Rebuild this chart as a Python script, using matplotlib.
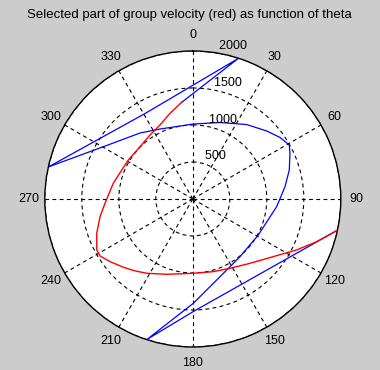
import numpy as np
import matplotlib.pyplot as plt

plt.rcParams['font.family'] = ['Liberation Sans', 'DejaVu Sans']

# angles in degrees (clockwise from north), radii in m/s
# selected part of the group velocity (red)
red_theta = [353.3, 345.1, 336.1, 326.2, 314.7, 301.2, 292.2, 281.2, 267.2, 259.2,
             250.4, 242.0, 238.4, 232.9, 225.5, 218.8, 211.8, 199.1, 179.6, 164.3,
             151.8, 138.4, 125.6, 116.1, 109.0, 102.4]
red_r = [1313, 1198, 1094, 1040, 1004, 1018, 1037, 1095, 1188, 1276,
         1378, 1470, 1471, 1403, 1316, 1247, 1181, 1077, 1004, 1020,
         1063, 1163, 1338, 1564, 1771, 1991]

# rest of the full curve (blue): up to the red part, and after it
blue_a_theta = [282.6, 330.8, 17.9, 353.3]
blue_a_r = [1995, 1323, 1995, 1313]
blue_b_theta = [102.4, 179.7, 198.0, 179.7, 151.2, 140.7, 118.8, 95.2, 82.4, 73.3, 64.8,
                60.8, 54.8, 47.4, 35.9, 19.6, 0.4, 334.9, 321.3, 298.8, 282.6]
blue_b_r = [1991, 1520, 1993, 1409, 1044, 1007, 1010, 1138, 1257, 1361, 1451,
            1494, 1442, 1357, 1242, 1097, 1013, 1044, 1142, 1431, 1995]

r_ticks = [500, 1000, 1500, 2000]
theta_ticks = list(range(0, 360, 30))

fig = plt.figure(figsize=(3.8, 3.7), dpi=100, facecolor='#cccccc')
ax = fig.add_axes([0.1179, 0.0622, 0.779, 0.8], projection='polar')
ax.set_facecolor('white')
ax.set_theta_zero_location('N')
ax.set_theta_direction(-1)
ax.set_ylim(0, 2000)

ax.plot(np.radians(blue_a_theta), blue_a_r, color='blue', lw=0.9, zorder=3)
ax.plot(np.radians(blue_b_theta), blue_b_r, color='blue', lw=0.9, zorder=3)
ax.plot(np.radians(red_theta), red_r, color='red', lw=1.0, zorder=4)

# grid like matlab polar()
ax.set_rgrids(r_ticks, labels=[''] * len(r_ticks))
ax.set_thetagrids(theta_ticks, labels=[''] * len(theta_ticks))
ax.grid(True, color='black', linestyle=(0, (3.5, 3)), lw=0.8)
ax.spines['polar'].set_color('black')
ax.spines['polar'].set_linewidth(1.0)

for t in theta_ticks:
    ax.text(np.radians(t), 2210, str(t), ha='center', va='center', fontsize=9)
for r in r_ticks:
    ax.text(np.radians(7.5), r, '  %d' % r, ha='left', va='bottom', fontsize=9)

fig.text(189 / 380, 1 - 15 / 370, 'Selected part of group velocity (red) as function of theta',
         ha='center', va='center', fontsize=9.5)

fig.savefig('out.png', dpi=100, facecolor=fig.get_facecolor())
